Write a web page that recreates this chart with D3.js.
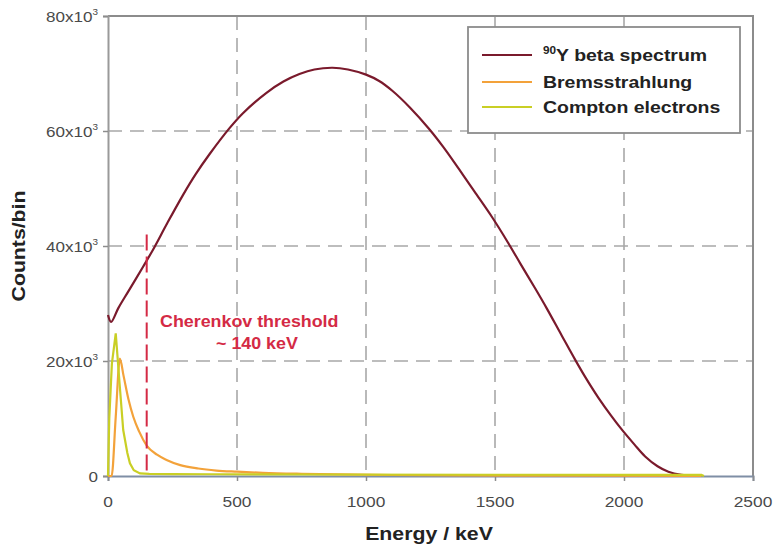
<!DOCTYPE html>
<meta charset="utf-8">
<html>
<head>
<script src="https://d3js.org/d3.v7.min.js"></script>
<style>
  body { margin: 0; background: #fff; }
  text { font-family: "Liberation Sans", Arial, sans-serif; }
</style>
</head>
<body>
<div id="chart"></div>
<script>

// ---- data (energy in keV, counts per bin) ----
var betaEnergy = [0, 12, 40, 80, 136, 175, 230, 291, 340, 394, 471, 523, 613, 680, 742, 800, 870, 930,
                  1000, 1051, 1102, 1170, 1244, 1300, 1360, 1420, 1489, 1553, 1600, 1656, 1700, 1759,
                  1811, 1850, 1901, 1950, 1991, 2040, 2082, 2130, 2172, 2223, 2270];
var betaCounts = [28000, 26800, 29200, 32200, 36400, 39400, 44000, 48900, 52500, 56000, 60500, 63100,
                  66600, 68600, 69900, 70700, 71000, 70700, 69800, 68700, 67000, 64100, 60400, 57200,
                  53400, 49500, 45000, 40400, 36800, 32600, 29200, 24400, 20200, 17200, 13600, 10500,
                  8100, 5500, 3400, 1700, 750, 200, 0];

var bremEnergy = [0, 14, 30, 46, 60, 80, 98, 120, 150, 190, 227, 280, 350, 420, 500, 600, 750, 900,
                  1100, 1400, 1800, 2300];
var bremCounts = [0, 0, 10300, 20400, 17500, 13200, 10300, 7800, 5300, 3700, 2800, 1900, 1300, 950,
                  750, 550, 380, 270, 170, 90, 40, 0];

var comptonEnergy = [0, 5, 15, 30, 45, 59, 75, 85, 100, 124, 160, 250, 400, 800, 1500, 2300, 2310];
var comptonCounts = [0, 10000, 19500, 24800, 16000, 8000, 4000, 2200, 1000, 450, 380, 330, 300, 260,
                     220, 180, 0];

var xTicks = [0, 500, 1000, 1500, 2000, 2500];
var yTicks = [0, 20000, 40000, 60000, 80000];
var thresholdEnergy = 150;
var thresholdTop = 42000;

var seriesNames = ["Y beta spectrum", "Bremsstrahlung", "Compton electrons"];
var seriesColors = ["#7a1a2c", "#f3a23a", "#c9cf25"];

// ---- layout ----
var W = 773, H = 549;
var plotL = 108, plotR = 753, plotT = 16, plotB = 476;

var svg = d3.select("#chart").append("svg")
  .attr("width", W).attr("height", H);

var x = d3.scaleLinear().domain([0, 2500]).range([plotL, plotR]);
var y = d3.scaleLinear().domain([0, 80000]).range([plotB, plotT]);

// grid (dashed)
svg.append("g").selectAll("line")
  .data(xTicks.slice(1, -1))
  .enter().append("line")
    .attr("x1", d => x(d)).attr("x2", d => x(d))
    .attr("y1", plotT).attr("y2", plotB)
    .attr("stroke", "#a8a8a8").attr("stroke-width", 1.6)
    .attr("stroke-dasharray", "14,8");
svg.append("g").selectAll("line")
  .data(yTicks.slice(1, -1))
  .enter().append("line")
    .attr("x1", plotL).attr("x2", plotR)
    .attr("y1", d => y(d)).attr("y2", d => y(d))
    .attr("stroke", "#a8a8a8").attr("stroke-width", 1.6)
    .attr("stroke-dasharray", "14,8");

// frame top + right
svg.append("path")
  .attr("d", "M" + plotL + "," + plotT + "H" + plotR + "V" + plotB)
  .attr("fill", "none").attr("stroke", "#8c8c8c").attr("stroke-width", 2);

// axes
var yAxis = svg.append("g")
  .attr("transform", "translate(" + plotL + ",0)")
  .call(d3.axisLeft(y).tickValues(yTicks).tickSize(5).tickFormat(""));
yAxis.select(".domain").attr("stroke", "#9a9a9a").attr("stroke-width", 2);
yAxis.selectAll(".tick line").attr("stroke", "#8c8c8c").attr("stroke-width", 1.5);

var xAxis = svg.append("g")
  .attr("transform", "translate(0," + plotB + ")")
  .call(d3.axisBottom(x).tickValues(xTicks).tickSize(5).tickFormat(""));
xAxis.select(".domain").attr("stroke", "#7f8ea5").attr("stroke-width", 2);
xAxis.selectAll(".tick line").attr("stroke", "#8c8c8c").attr("stroke-width", 1.5);

// y tick labels  e.g. 80x10^3
yTicks.forEach(function(v) {
  var t = svg.append("text")
    .attr("transform", "translate(98," + (y(v) + 6) + ") scale(1.1,1)")
    .attr("text-anchor", "end")
    .attr("font-size", 15.5).attr("fill", "#4a4a4a");
  if (v === 0) { t.text("0"); return; }
  t.append("tspan").text((v / 1000) + "x10");
  t.append("tspan").attr("font-size", 9).attr("dy", -7).text("3");
});

// x tick labels
xTicks.forEach(function(v) {
  svg.append("text")
    .attr("transform", "translate(" + x(v) + ",507) scale(1.12,1)")
    .attr("text-anchor", "middle")
    .attr("font-size", 15.5).attr("fill", "#4a4a4a")
    .text(v);
});

// axis titles
svg.append("text")
  .attr("transform", "translate(429,540) scale(1.15,1)")
  .attr("text-anchor", "middle").attr("font-weight", "bold")
  .attr("font-size", 18.5).attr("fill", "#222")
  .text("Energy / keV");
svg.append("text")
  .attr("transform", "translate(25,246) rotate(-90) scale(1.18,1)")
  .attr("text-anchor", "middle").attr("font-weight", "bold")
  .attr("font-size", 18).attr("fill", "#222")
  .text("Counts/bin");

// curves
function pairs(xs, ys) { return xs.map((e, i) => [e, ys[i]]); }
var smooth = d3.line().x(d => x(d[0])).y(d => y(d[1])).curve(d3.curveCatmullRom.alpha(0.5));
var mono = d3.line().x(d => x(d[0])).y(d => y(d[1])).curve(d3.curveMonotoneX);

svg.append("path")
  .datum(pairs(betaEnergy, betaCounts))
  .attr("d", smooth).attr("fill", "none")
  .attr("stroke", seriesColors[0]).attr("stroke-width", 2.2);
svg.append("path")
  .datum(pairs(bremEnergy, bremCounts))
  .attr("d", mono).attr("fill", "none")
  .attr("stroke", seriesColors[1]).attr("stroke-width", 2.2);
svg.append("path")
  .datum(pairs(comptonEnergy, comptonCounts))
  .attr("d", d3.line().x(d => x(d[0])).y(d => y(d[1]))).attr("fill", "none")
  .attr("stroke", seriesColors[2]).attr("stroke-width", 2.2);

// Cherenkov threshold
svg.append("line")
  .attr("x1", x(thresholdEnergy)).attr("x2", x(thresholdEnergy))
  .attr("y1", y(thresholdTop)).attr("y2", plotB)
  .attr("stroke", "#d42a45").attr("stroke-width", 2)
  .attr("stroke-dasharray", "16,6");

svg.append("text")
  .attr("transform", "translate(160,327) scale(1.05,1)")
  .attr("font-weight", "bold").attr("font-size", 17).attr("fill", "#d42a45")
  .text("Cherenkov threshold");
svg.append("text")
  .attr("transform", "translate(216,349) scale(1.05,1)")
  .attr("font-weight", "bold").attr("font-size", 17).attr("fill", "#d42a45")
  .text("~ 140 keV");

// legend
var lg = svg.append("g");
lg.append("rect")
  .attr("x", 468).attr("y", 27).attr("width", 272).attr("height", 106)
  .attr("fill", "#fff").attr("stroke", "#8c8c8c").attr("stroke-width", 1.8);
var rowsY = [55, 82, 107];
seriesNames.forEach(function(name, i) {
  lg.append("line")
    .attr("x1", 482).attr("x2", 532).attr("y1", rowsY[i]).attr("y2", rowsY[i])
    .attr("stroke", seriesColors[i]).attr("stroke-width", 2.2);
  var t = lg.append("text")
    .attr("transform", "translate(543," + (rowsY[i] + 6) + ") scale(1.18,1)")
    .attr("font-weight", "bold").attr("font-size", 16.5).attr("fill", "#222");
  if (i === 0) {
    t.append("tspan").attr("font-size", 10).attr("dy", -7).text("90");
    t.append("tspan").attr("dy", 7).text(name);
  } else {
    t.text(name);
  }
});

</script>
</body>
</html>
